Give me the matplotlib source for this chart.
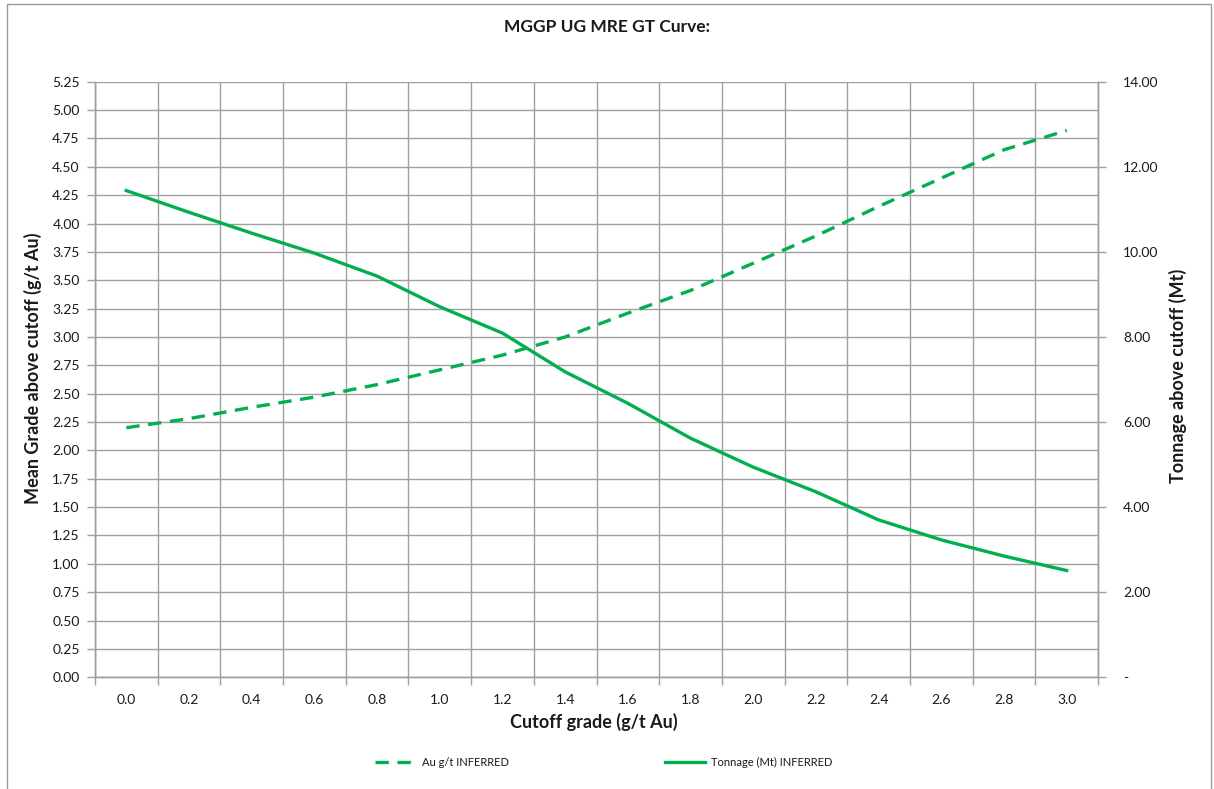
"""
GT curve: mean grade and tonnage above cutoff, two y axes.
"""

import matplotlib.pyplot as plt
from matplotlib.ticker import MultipleLocator, FuncFormatter, FixedLocator
from matplotlib.lines import Line2D
from matplotlib.patches import Rectangle

plt.rcParams["font.family"] = ["Lato", "DejaVu Sans"]

# data
cutoffs = ["0.0", "0.2", "0.4", "0.6", "0.8", "1.0", "1.2", "1.4",
           "1.6", "1.8", "2.0", "2.2", "2.4", "2.6", "2.8", "3.0"]
grade_inferred = [2.20, 2.28, 2.38, 2.47, 2.58, 2.71, 2.84, 3.00,
                  3.21, 3.41, 3.65, 3.89, 4.15, 4.40, 4.65, 4.82]
tonnage_inferred = [11.44, 10.93, 10.44, 9.97, 9.43, 8.71, 8.09, 7.18,
                    6.44, 5.62, 4.94, 4.36, 3.70, 3.23, 2.85, 2.51]

GREEN = "#00B050"
GRID = "#A0A0A0"
TXT = "#1a1a1a"

W, H = 1214, 789
fig = plt.figure(figsize=(W / 100, H / 100), dpi=100)

# chart frame (cut off at the bottom like the screenshot)
fig.patches.append(Rectangle((7 / W, -0.05), (1211 - 7) / W, 1.05 - 4 / H,
                             transform=fig.transFigure, fill=False,
                             edgecolor="#9a9a9a", linewidth=1.0))

left, right, top, bottom = 95, 1098, 81.7, 677.3
ax = fig.add_axes([left / W, 1 - bottom / H, (right - left) / W, (bottom - top) / H])
ax2 = ax.twinx()

x = list(range(len(cutoffs)))
ax.plot(x, grade_inferred, color=GREEN, lw=2.4, dashes=(4, 2.6),
        solid_capstyle="butt", zorder=3)
ax2.plot(x, tonnage_inferred, color=GREEN, lw=2.4, zorder=3)

# x axis as categories
ax.set_xlim(-0.5, len(cutoffs) - 0.5)
ax.set_xticks(x)
ax.set_xticklabels(cutoffs)
ax.xaxis.set_minor_locator(FixedLocator([i - 0.5 for i in range(len(cutoffs) + 1)]))
ax.tick_params(axis="x", which="major", length=0, pad=12, labelsize=10, labelcolor=TXT)
ax.tick_params(axis="x", which="minor", length=6, color=GRID, width=1)
ax.grid(axis="x", which="minor", color=GRID, lw=1)

# left axis
ax.set_ylim(0, 5.25)
ax.yaxis.set_major_locator(MultipleLocator(0.25))
ax.yaxis.set_major_formatter(FuncFormatter(lambda v, p: f"{v:.2f}"))
ax.tick_params(axis="y", length=6, color=GRID, width=1, pad=5,
               labelsize=10, labelcolor=TXT)
ax.grid(axis="y", which="major", color=GRID, lw=1)
ax.set_axisbelow(True)

# right axis
ax2.set_ylim(0, 14)
ax2.yaxis.set_major_locator(MultipleLocator(2))
ax2.yaxis.set_major_formatter(FuncFormatter(lambda v, p: "-" if v == 0 else f"{v:.2f}"))
ax2.tick_params(axis="y", length=6, color=GRID, width=1, pad=12,
                labelsize=10, labelcolor=TXT)

for a in (ax, ax2):
    a.spines["top"].set_visible(False)
    for s in ("left", "right", "bottom"):
        a.spines[s].set_color(GRID)
        a.spines[s].set_linewidth(1)

# titles and labels
fig.text(607 / W, 1 - 27 / H, "MGGP UG MRE GT Curve:", ha="center", va="center",
         fontsize=12.5, fontweight="bold", color=TXT)
fig.text(33 / W, 1 - 368 / H, "Mean Grade above cutoff (g/t Au)", rotation=90,
         ha="center", va="center", fontsize=13, fontweight="bold", color=TXT)
fig.text(1178 / W, 1 - 376 / H, "Tonnage above cutoff (Mt)", rotation=90,
         ha="center", va="center", fontsize=13, fontweight="bold", color=TXT)
fig.text(594 / W, 1 - 722 / H, "Cutoff grade (g/t Au)", ha="center", va="center",
         fontsize=13, fontweight="bold", color=TXT)

handles = [Line2D([], [], color=GREEN, lw=2.4, dashes=(4, 2.6)),
           Line2D([], [], color=GREEN, lw=2.4)]
fig.legend(handles, ["Au g/t INFERRED", "Tonnage (Mt) INFERRED"],
           loc="center", bbox_to_anchor=(604 / W, 1 - 762 / H), ncol=2,
           frameon=False, fontsize=8, handlelength=3.6, columnspacing=14,
           handletextpad=0.6, labelcolor=TXT)

fig.savefig("out.png", dpi=100)
